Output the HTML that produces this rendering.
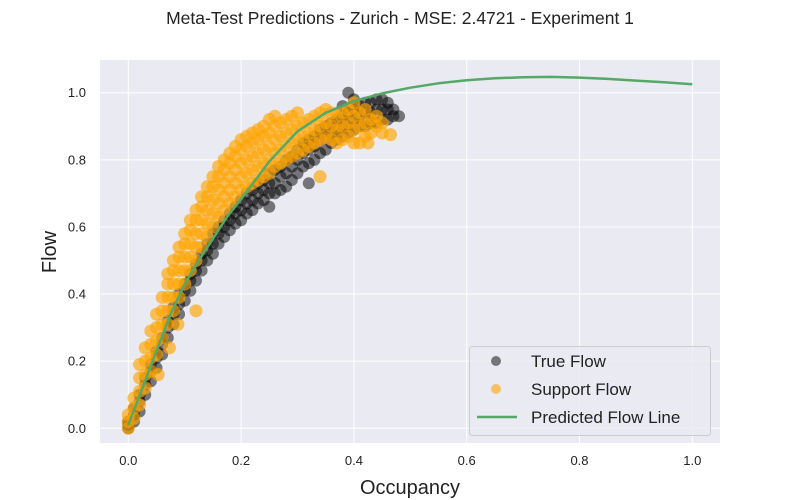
<!DOCTYPE html>
<html><head><meta charset="utf-8"><style>
body{margin:0;background:#fff}
svg{display:block;font-family:"Liberation Sans","DejaVu Sans",sans-serif}
</style></head><body>
<svg id="chart" width="800" height="500">
<rect x="0" y="0" width="800" height="500" fill="#fff"/>
<text x="400" y="24" text-anchor="middle" font-size="17.5" fill="#222">Meta-Test Predictions - Zurich - MSE: 2.4721 - Experiment 1</text>
<rect x="100" y="60" width="620" height="383" fill="#EAEAF2"/>
<g id="grid"></g><g id="ticks"></g>
<g id="black"></g><g id="orange"></g><g id="line"></g>
<text x="410" y="494" text-anchor="middle" font-size="20" fill="#222">Occupancy</text>
<text transform="translate(56,252) rotate(-90)" text-anchor="middle" font-size="20" fill="#222">Flow</text>
<g>
<rect x="469.5" y="346.5" width="241" height="89" rx="3" fill="#EAEAF2" fill-opacity="0.8" stroke="#ccc"/>
<circle cx="496" cy="361" r="5" fill="#000" fill-opacity="0.5"/>
<text x="531" y="367" font-size="17" fill="#222">True Flow</text>
<circle cx="496" cy="389" r="5" fill="#FFA500" fill-opacity="0.6"/>
<text x="531" y="395" font-size="17" fill="#222">Support Flow</text>
<line x1="477" y1="417" x2="517" y2="417" stroke="#55A868" stroke-width="2.5"/>
<text x="531" y="423" font-size="17" fill="#222">Predicted Flow Line</text>
</g>
</svg>
<script>
const xTicks=[0,0.2,0.4,0.6,0.8,1.0];
const xTickLabels=["0.0","0.2","0.4","0.6","0.8","1.0"];
const yTicks=[0,0.2,0.4,0.6,0.8,1.0];
const yTickLabels=["0.0","0.2","0.4","0.6","0.8","1.0"];
// [occupancy, [flows at that occupancy]]
const trueFlowGroups=[[0,[0,0.01,0.02]],[0.01,[0.02,0.04,0.06]],[0.02,[0.05,0.08,0.1]],[0.03,[0.1,0.13,0.15]],[0.04,[0.14,0.17,0.19]],[0.05,[0.18,0.21,0.23]],[0.06,[0.22,0.25,0.27]],[0.07,[0.27,0.3,0.32]],[0.08,[0.31,0.34,0.36]],[0.09,[0.34,0.37,0.4]],[0.1,[0.38,0.41,0.43]],[0.11,[0.41,0.44,0.46]],[0.12,[0.44,0.47,0.49]],[0.13,[0.47,0.5,0.52]],[0.14,[0.5,0.53,0.55]],[0.15,[0.52,0.55,0.58]],[0.16,[0.55,0.58,0.6]],[0.17,[0.57,0.6,0.62]],[0.18,[0.59,0.62,0.64]],[0.19,[0.61,0.64,0.66]],[0.2,[0.62,0.65,0.68]],[0.21,[0.64,0.67,0.7]],[0.22,[0.65,0.68,0.71]],[0.23,[0.67,0.7,0.73]],[0.24,[0.68,0.71,0.74]],[0.25,[0.66,0.7,0.73,0.76]],[0.26,[0.7,0.73,0.77]],[0.27,[0.71,0.75,0.78]],[0.28,[0.72,0.76,0.8]],[0.29,[0.74,0.78,0.81]],[0.3,[0.76,0.8,0.83]],[0.31,[0.78,0.82,0.85]],[0.32,[0.73,0.79,0.83,0.86]],[0.33,[0.8,0.84,0.87]],[0.34,[0.82,0.86,0.89]],[0.35,[0.83,0.87,0.9]],[0.36,[0.85,0.88,0.91]],[0.37,[0.86,0.89,0.92]],[0.38,[0.87,0.9,0.93,0.96]],[0.39,[0.88,0.91,0.94,1.0]],[0.4,[0.89,0.92,0.95,0.98]],[0.41,[0.9,0.93,0.96]],[0.42,[0.9,0.94,0.97]],[0.43,[0.91,0.94,0.97]],[0.44,[0.91,0.95,0.98]],[0.45,[0.92,0.95,0.98]],[0.46,[0.92,0.95,0.97]],[0.47,[0.93,0.95]],[0.48,[0.93]]];
const supportFlowGroups=[[0,[0,0.02,0.04]],[0.01,[0.03,0.06,0.09]],[0.02,[0.07,0.11,0.15,0.19]],[0.03,[0.12,0.16,0.2,0.24]],[0.04,[0.17,0.21,0.25,0.29]],[0.05,[0.22,0.26,0.3,0.34]],[0.053,[0.16]],[0.06,[0.27,0.31,0.35,0.39]],[0.07,[0.31,0.35,0.39,0.43,0.46]],[0.073,[0.24]],[0.08,[0.35,0.39,0.43,0.47,0.5]],[0.088,[0.31]],[0.09,[0.39,0.43,0.47,0.51,0.54]],[0.1,[0.43,0.47,0.51,0.55,0.58]],[0.11,[0.47,0.51,0.55,0.59,0.62]],[0.12,[0.35,0.5,0.54,0.58,0.62,0.65]],[0.13,[0.54,0.58,0.62,0.66,0.69]],[0.14,[0.57,0.61,0.65,0.69,0.72]],[0.15,[0.6,0.64,0.68,0.72,0.75]],[0.16,[0.63,0.67,0.71,0.75,0.78]],[0.17,[0.65,0.69,0.73,0.77,0.8]],[0.18,[0.67,0.71,0.75,0.79,0.82]],[0.19,[0.69,0.73,0.77,0.81,0.84]],[0.2,[0.71,0.75,0.79,0.83,0.86]],[0.21,[0.72,0.76,0.8,0.84,0.87]],[0.22,[0.73,0.77,0.81,0.85,0.88]],[0.23,[0.74,0.78,0.82,0.86,0.89]],[0.24,[0.75,0.79,0.83,0.87,0.9]],[0.25,[0.76,0.8,0.84,0.88,0.92]],[0.26,[0.78,0.82,0.86,0.9,0.93]],[0.27,[0.79,0.83,0.87,0.91]],[0.28,[0.8,0.84,0.88,0.92]],[0.29,[0.81,0.85,0.89,0.93]],[0.3,[0.82,0.86,0.9,0.94]],[0.31,[0.83,0.87,0.91]],[0.32,[0.84,0.88,0.92]],[0.33,[0.85,0.89,0.93]],[0.34,[0.75,0.86,0.9,0.94]],[0.35,[0.87,0.91,0.95]],[0.36,[0.86,0.9,0.94]],[0.37,[0.85,0.89,0.93]],[0.38,[0.86,0.9,0.94]],[0.39,[0.87,0.91,0.95]],[0.4,[0.85,0.89,0.93,0.97]],[0.41,[0.85,0.9,0.94]],[0.42,[0.87,0.91,0.95]],[0.425,[0.85]],[0.43,[0.88,0.92]],[0.44,[0.9,0.93]],[0.45,[0.88,0.91]],[0.465,[0.875]]];
const lineX=[0,0.025,0.05,0.075,0.1,0.125,0.15,0.175,0.2,0.25,0.3,0.35,0.4,0.45,0.5,0.55,0.6,0.65,0.7,0.75,0.8,0.85,0.9,0.95,1.0];
const lineY=[0.01,0.12,0.23,0.34,0.43,0.5,0.565,0.63,0.683,0.795,0.885,0.94,0.975,0.998,1.015,1.028,1.037,1.043,1.046,1.047,1.045,1.041,1.036,1.031,1.025];

const NS="http://www.w3.org/2000/svg";
const sx=v=>128.3+v*564;
const sy=v=>428.3-v*335.6;
function mk(tag,attrs,parent){const e=document.createElementNS(NS,tag);for(const k in attrs)e.setAttribute(k,attrs[k]);document.getElementById(parent).appendChild(e);return e;}
xTicks.forEach((t,i)=>{
  const g=mk('line',{x1:sx(t),x2:sx(t),y1:60,y2:443,stroke:'#fff','stroke-width':1},'grid');
  
  
  const l=mk('text',{x:sx(t),y:465,'text-anchor':'middle','font-size':13,fill:'#222'},'ticks');
  l.textContent=xTickLabels[i];
  
  
});
yTicks.forEach((t,i)=>{
  const g=mk('line',{x1:100,x2:720,y1:sy(t),y2:sy(t),stroke:'#fff','stroke-width':1},'grid');
  
  
  const l=mk('text',{x:86,y:sy(t)+4.5,'text-anchor':'end','font-size':13,fill:'#222'},'ticks');
  l.textContent=yTickLabels[i];
  
  
});
trueFlowGroups.forEach(g=>g[1].forEach(f=>{
  const c=mk('circle',{cx:sx(g[0]),cy:sy(f),r:6,fill:'#000','fill-opacity':0.5},'black');
  
  
}));
supportFlowGroups.forEach(g=>g[1].forEach(f=>{
  const c=mk('circle',{cx:sx(g[0]),cy:sy(f),r:6.5,fill:'#FFA500','fill-opacity':0.65},'orange');
  
  
}));
const d=lineX.map((x,i)=>(i?'L':'M')+sx(x).toFixed(1)+','+sy(lineY[i]).toFixed(1)).join(' ');
const pl=mk('path',{d:d,fill:'none',stroke:'#55A868','stroke-width':2.5,'stroke-linejoin':'round'},'line');


</script>
</body></html>
